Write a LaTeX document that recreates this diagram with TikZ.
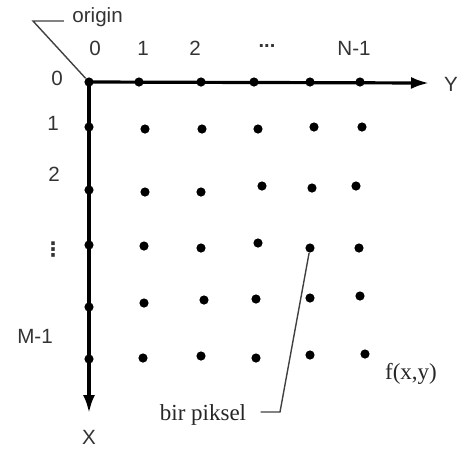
\documentclass[tikz,border=0pt]{standalone}
\usepackage{fontspec}
\setmainfont{Liberation Serif}
\setsansfont{Liberation Sans}
\newfontfamily\symfont{DejaVu Sans}
\usetikzlibrary{arrows.meta,positioning}

\begin{document}
\begin{tikzpicture}[
    x=0.5pt, y=-0.5pt,
    pix/.style={
        circle,
        fill=black,
        inner sep=0pt,
        minimum size=4.6pt
    },
    axlabel/.style={
        font=\sffamily\fontsize{10.3}{12}\selectfont,
        text=black!80,
        inner sep=1pt
    },
    serlabel/.style={
        font=\fontsize{11.5}{13}\selectfont,
        text=black!85,
        inner sep=1pt
    },
    axis/.style={
        line width=1.6pt,
        -{Latex[length=9pt, width=6pt]}
    },
    leader/.style={
        line width=0.7pt,
        draw=black!75
    }
]
    \useasboundingbox (0,0) rectangle (462,452);

    % Origin and axes
    \node[pix] (o) at (89,82) {};
    \coordinate (yend) at (429,83);
    \coordinate (xend) at (89,413);
    \draw[axis] (o.center) -- (yend);
    \draw[axis] (o.center) -- (xend);
    \node[axlabel] (ylab) at (451,84) {Y};
    \node[axlabel] (xlab) at (89,437) {X};

    % Points on the axes
    \foreach \x/\n in {139/1, 201/2, 254/3, 310/4, 360/5}
        \node[pix] (t\n) at (\x,82) {};
    \foreach \y/\n in {127/1, 190/2, 245/3, 307/4, 359/5}
        \node[pix] (s\n) at (89,\y) {};

    % Pixel grid
    \foreach \x/\y/\n in {145/129/11, 202/129/12, 258/129/13, 314/127/14, 362/127/15,
                          145/192/21, 201/192/22, 262/186/23, 312/188/24, 356/186/25,
                          144/246/31, 201/248/32, 258/243/33, 310/248/34, 359/248/35,
                          144/303/41, 204/300/42, 256/299/43, 310/298/44, 360/296/45,
                          143/358/51, 201/356/52, 256/358/53, 310/355/54, 365/354/55}
        \node[pix] (g\n) at (\x,\y) {};

    % Column indices
    \node[axlabel] (c0) at (95,48) {0};
    \node[axlabel] (c1) at (143,48) {1};
    \node[axlabel] (c2) at (195,48) {2};
    \node[axlabel, font=\sffamily\bfseries\fontsize{10}{12}\selectfont] (cdots) at (267,46) {...};
    \node[axlabel] (cn) at (354,48) {N-1};

    % Row indices
    \node[axlabel] (r0) at (57,78) {0};
    \node[axlabel] (r1) at (53,123) {1};
    \node[axlabel] (r2) at (54,174) {2};
    \node[axlabel, font=\symfont\bfseries\fontsize{10}{12}\selectfont] (rdots) at (53,250) {⋮};
    \node[axlabel] (rm) at (35,336) {M-1};

    % Origin leader
    \node[axlabel, anchor=west] (origin) at (70,17) {origin};
    \coordinate (obend) at (33,21);
    \draw[leader, shorten >=3pt] (o) -- (obend) -- (obend -| origin.west);

    % Pixel leader
    \node[serlabel] (piksel) at (203,415) {bir piksel};
    \coordinate (pbend) at (280,412);
    \draw[leader, shorten >=6pt] (g34) -- (pbend) -- (pbend -| piksel.east);

    % Image function
    \node[serlabel] (fxy) at (411,374) {f(x,y)};
\end{tikzpicture}
\end{document}
